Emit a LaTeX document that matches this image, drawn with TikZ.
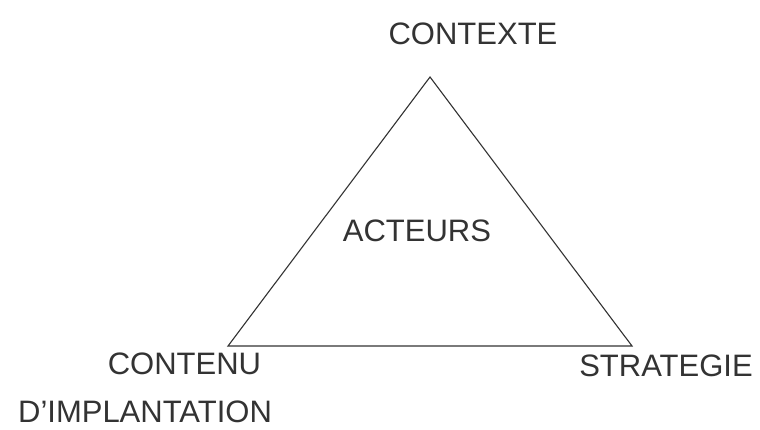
\documentclass[tikz,border=0pt]{standalone}
\usepackage{fontspec}
\setmainfont{Liberation Sans}
\definecolor{ink}{HTML}{333333}
\begin{document}
\begin{tikzpicture}[x=1pt,y=-1pt,
  lbl/.style={inner sep=0pt, text=ink, font=\fontsize{31}{37}\selectfont},
  edge/.style={draw=ink, line width=1.1pt, line join=miter}]
\useasboundingbox[fill=white] (0,0) rectangle (760,430);
\coordinate (top) at (430,77);
\coordinate (bl) at (228,346);
\coordinate (br) at (632,346);
\draw[edge] (top) -- (bl) -- (br) -- cycle;
\node[lbl] (contexte) at (473,33.5) {CONTEXTE};
\node[lbl] (acteurs) at (417,230.5) {ACTEURS};
\node[lbl] (contenu) at (184.5,364) {CONTENU};
\node[lbl] (implant) at (145,412) {D’IMPLANTATION};
\node[lbl] (strategie) at (666,365.5) {STRATEGIE};
\end{tikzpicture}
\end{document}
